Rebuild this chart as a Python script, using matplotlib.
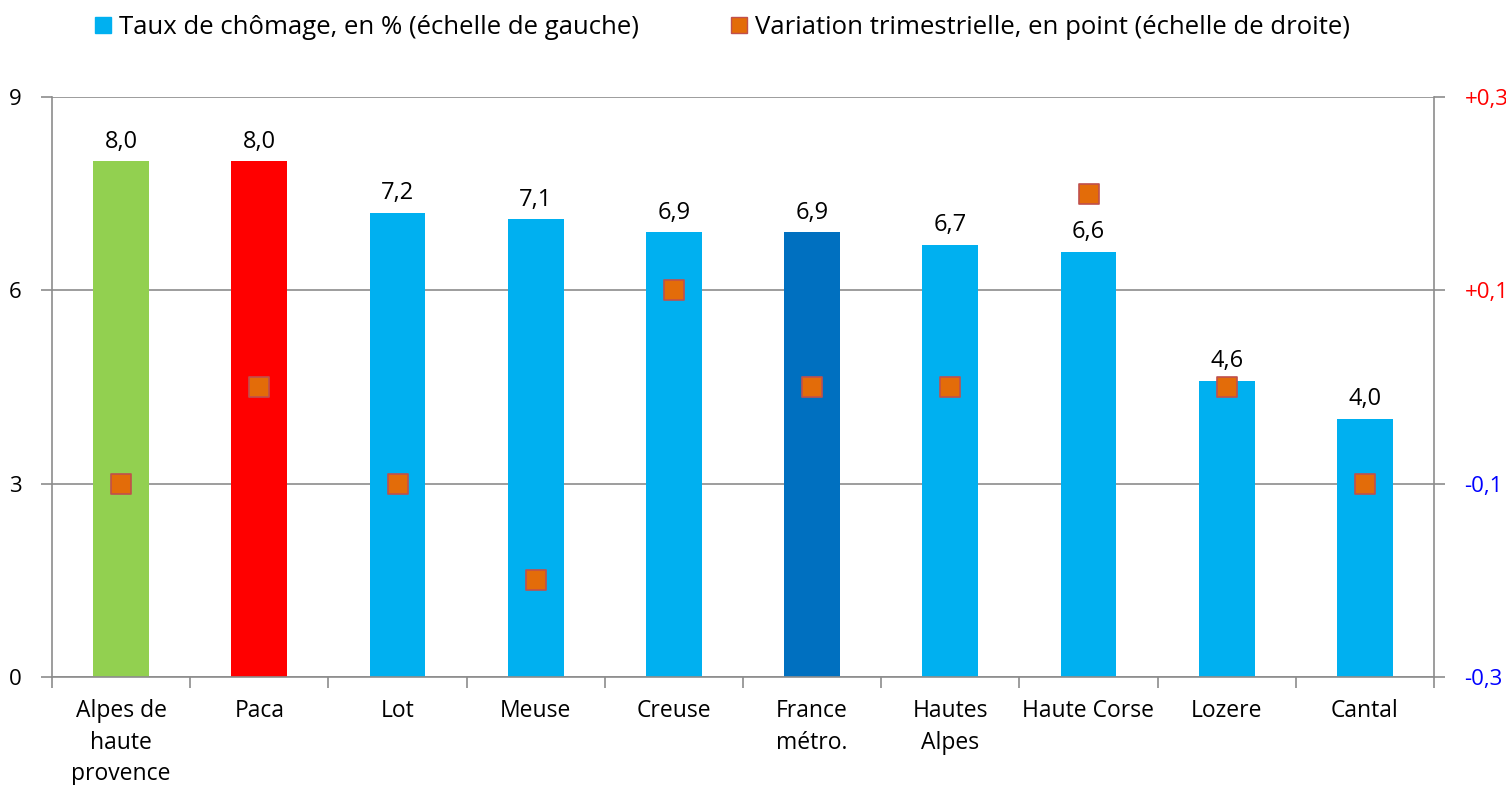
import numpy as np
import matplotlib.pyplot as plt
from matplotlib.lines import Line2D

plt.rcParams['font.family'] = ['Open Sans', 'DejaVu Sans']

categories = ['Alpes de\nhaute\nprovence', 'Paca', 'Lot', 'Meuse', 'Creuse',
              'France\nmétro.', 'Hautes\nAlpes', 'Haute Corse', 'Lozere', 'Cantal']
taux = [8.0, 8.0, 7.2, 7.1, 6.9, 6.9, 6.7, 6.6, 4.6, 4.0]
variation = [-0.1, 0.0, -0.1, -0.2, 0.1, 0.0, 0.0, 0.2, 0.0, -0.1]
bar_colors = ['#92D050', '#FF0000', '#00B0F0', '#00B0F0', '#00B0F0',
              '#0070C0', '#00B0F0', '#00B0F0', '#00B0F0', '#00B0F0']
right_ticks = [-0.3, -0.1, 0.1, 0.3]
right_labels = ['-0,3', '-0,1', '+0,1', '+0,3']
right_colors = ['blue', 'blue', 'red', 'red']

fig = plt.figure(figsize=(15.06, 7.85), dpi=100)
ax = fig.add_axes([52 / 1506, 1 - 677 / 785, (1434 - 52) / 1506, (677 - 97) / 785])
x = np.arange(len(categories))

ax.bar(x, taux, width=0.405, color=bar_colors, zorder=2)
for xi, v in zip(x, taux):
    ax.text(xi, v + 0.12, f'{v:.1f}'.replace('.', ','), ha='center', va='bottom',
            fontsize=17, zorder=4)

ax.set_xlim(-0.5, len(categories) - 0.5)
ax.set_ylim(0, 9)
ax.set_yticks([0, 3, 6, 9])
ax.yaxis.grid(True, color='#8c8c8c', linewidth=1.2, zorder=0)
ax.set_axisbelow(True)
ax.set_xticks(x)
ax.set_xticklabels(categories, fontsize=16.5, linespacing=1.42)
ax.tick_params(axis='x', length=0, pad=16)
ax.set_xticks(np.arange(-0.5, len(categories)), minor=True)
ax.tick_params(axis='x', which='minor', length=8, width=1.2, color='#8c8c8c')
ax.tick_params(axis='y', length=8, width=1.2, color='#8c8c8c', labelsize=16, pad=14)
for s in ['top', 'right']:
    ax.spines[s].set_visible(False)
for s in ['left', 'bottom']:
    ax.spines[s].set_color('#8c8c8c')
    ax.spines[s].set_linewidth(1.2)

ax2 = ax.twinx()
ax2.set_ylim(-0.3, 0.3)
ax2.scatter(x, variation, marker='s', s=200, color='#E36C09',
            edgecolor='#C0504D', linewidth=1.2, zorder=5)
ax2.set_yticks(right_ticks)
ax2.set_yticklabels(right_labels)
for lab, c in zip(ax2.get_yticklabels(), right_colors):
    lab.set_color(c)
ax2.tick_params(axis='y', length=8, width=1.2, color='#8c8c8c', labelsize=16, pad=14)
for s in ['top', 'left', 'bottom']:
    ax2.spines[s].set_visible(False)
ax2.spines['right'].set_color('#8c8c8c')
ax2.spines['right'].set_linewidth(1.2)

handles = [
    Line2D([], [], marker='s', linestyle='none', markersize=12, color='#00B0F0'),
    Line2D([], [], marker='s', linestyle='none', markersize=12, color='#E36C09',
           markeredgecolor='#C0504D'),
]
fig.legend(handles, ['Taux de chômage, en % (échelle de gauche)',
                     'Variation trimestrielle, en point (échelle de droite)'],
           loc='upper center', bbox_to_anchor=(0.479, 1.01), ncol=2, frameon=False,
           fontsize=18.5, handletextpad=0.2, columnspacing=3.5, handlelength=0.8)

fig.savefig('out.png', dpi=100)
